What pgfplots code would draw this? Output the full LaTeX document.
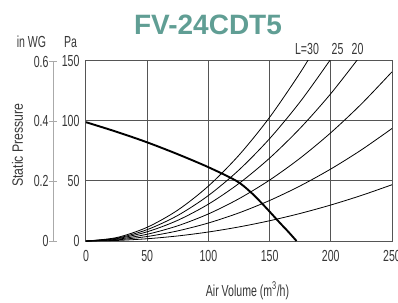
\documentclass[border=0pt]{standalone}
\usepackage{fontspec}
\setmainfont{Liberation Sans}
\newfontfamily\cond[FakeStretch=0.66]{Liberation Sans}
\newfontfamily\lbl[FakeStretch=0.82]{Liberation Sans}
\usepackage{pgfplots}
\pgfplotsset{compat=1.18}
\definecolor{teal1}{RGB}{96,158,148}
\definecolor{gridc}{RGB}{85,85,85}
\definecolor{txt}{RGB}{55,55,55}
\definecolor{wgc}{RGB}{170,170,170}
\begin{document}
\begin{tikzpicture}
\path[use as bounding box] (-86pt,-61pt) rectangle (312pt,241pt);
\begin{axis}[at={(0pt,0pt)}, anchor=south west, scale only axis, width=306pt, height=180pt,
 xmin=0,xmax=250,ymin=0,ymax=150,
 xtick={0,50,100,150,200,250}, ytick={0,50,100,150},
 grid=major, major grid style={gridc, line width=1pt},
 axis line style={gridc, line width=1pt},
 major tick length=0pt,
 tick label style={font=\cond\fontsize{16}{16}\selectfont, text=txt},
 /pgf/number format/assume math mode=true,
 xticklabel style={yshift=-6pt},
 yticklabel style={xshift=-3pt},
 clip=true]
\addplot[black, line width=0.8pt, smooth] coordinates {(0,0) (25,2.86) (50,11.45) (75,25.76) (100,45.8) (125,71.56) (150,103.05) (175,140.26) (190,165.3)};
\addplot[black, line width=0.8pt, smooth] coordinates {(0,0) (25,2.37) (50,9.48) (75,21.32) (100,37.9) (125,59.22) (150,85.28) (175,116.07) (200,151.6) (210,167.1)};
\addplot[black, line width=0.8pt, smooth] coordinates {(0,0) (25,1.92) (50,7.68) (75,17.27) (100,30.7) (125,47.97) (150,69.08) (175,94.02) (200,122.8) (225,155.4)};
\addplot[black, line width=0.8pt, smooth] coordinates {(0,0) (25,1.41) (50,5.64) (75,12.69) (100,22.56) (125,35.25) (150,50.76) (175,69.09) (200,90.24) (225,114.21) (250,141)};
\addplot[black, line width=0.8pt, smooth] coordinates {(0,0) (25,0.94) (50,3.75) (75,8.44) (100,15) (125,23.44) (150,33.75) (175,45.94) (200,60) (225,75.94) (250,93.75)};
\addplot[black, line width=0.8pt, smooth] coordinates {(0,0) (25,0.47) (50,1.88) (75,4.22) (100,7.5) (125,11.72) (150,16.88) (175,22.97) (200,30) (225,37.97) (250,46.88)};
\addplot[black, line width=1.9pt, smooth] coordinates {(0,99) (25,91) (50,82.2) (75,72.3) (100,61.5) (123,50) (134,41.2) (142,33.2) (150,24.5) (158.5,15) (165,8) (172,0)};
\end{axis}
\begin{axis}[at={(-33pt,0pt)}, anchor=south west, scale only axis, width=10pt, height=180pt,
 xmin=0,xmax=1,ymin=0,ymax=0.6022,
 axis x line=none, axis y line=left,
 y axis line style={-, draw=wgc, line width=1pt},
 ytick={0,0.2,0.4,0.6},
 tick align=center, major tick length=8pt,
 major tick style={draw=wgc, line width=0.8pt},
 tick label style={font=\cond\fontsize{16}{16}\selectfont, text=txt},
 /pgf/number format/assume math mode=true,
 yticklabel style={xshift=3pt}]
\end{axis}
\node[anchor=base, text=teal1, font=\bfseries\fontsize{28}{28}\selectfont] at (122pt,206pt) {FV-24CDT5};
\node[anchor=base, text=txt, font=\cond\fontsize{16}{16}\selectfont, inner sep=0pt] at (-54.5pt,193pt) {in WG};
\node[anchor=base, text=txt, font=\cond\fontsize{16}{16}\selectfont, inner sep=0pt] at (-15.5pt,193pt) {Pa};
\node[rotate=90, text=txt, font=\lbl\fontsize{15}{15}\selectfont, inner sep=0pt] at (-68.5pt,96pt) {Static Pressure};
\node[anchor=base, text=txt, font=\cond\fontsize{16}{16}\selectfont, inner sep=0pt] at (161.5pt,-55pt) {Air Volume (m\textsuperscript{3}/h)};
\node[anchor=base, text=txt, font=\cond\fontsize{16}{16}\selectfont, inner sep=0pt] at (221pt,186pt) {L=30};
\node[anchor=base, text=txt, font=\cond\fontsize{16}{16}\selectfont, inner sep=0pt] at (251.5pt,186pt) {25};
\node[anchor=base, text=txt, font=\cond\fontsize{16}{16}\selectfont, inner sep=0pt] at (271.5pt,186pt) {20};
\end{tikzpicture}
\end{document}
